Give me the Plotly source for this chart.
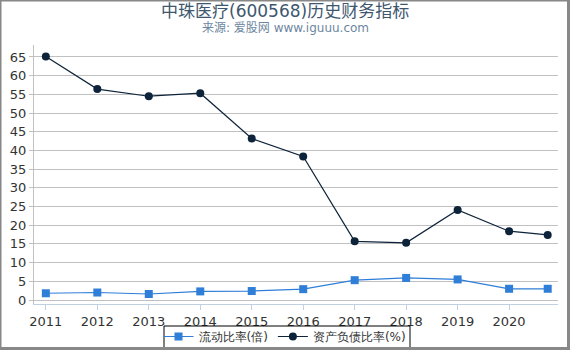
import plotly.graph_objects as go

years = [2011, 2012, 2013, 2014, 2015, 2016, 2017, 2018, 2019, 2020, 2020.75]
tick_years = [2011, 2012, 2013, 2014, 2015, 2016, 2017, 2018, 2019, 2020]
tick_labels = ["2011", "2012", "2013", "2014", "2015", "2016", "2017", "2018", "2019", "2020"]
current_ratio = [1.8, 2.0, 1.6, 2.3, 2.4, 2.9, 5.3, 5.9, 5.5, 3.0, 3.0]
debt_ratio = [65.1, 56.4, 54.5, 55.3, 43.2, 38.4, 15.7, 15.3, 24.1, 18.4, 17.4]

W, H = 570, 350
ml, mr, mt, mb = 34, 12, 45, 46
pw, ph = W - ml - mr, H - mt - mb

def px(x):
    return (x - ml) / pw

def py(y):
    return (H - mb - y) / ph

fig = go.Figure()
fig.add_trace(go.Scatter(
    x=years, y=current_ratio, name="流动比率(倍)", mode="lines+markers",
    line=dict(color="#2f7ed8", width=1.2),
    marker=dict(symbol="square", size=8, color="#2f7ed8"),
))
fig.add_trace(go.Scatter(
    x=years, y=debt_ratio, name="资产负债比率(%)", mode="lines+markers",
    line=dict(color="#0d233a", width=1.2),
    marker=dict(symbol="circle", size=8, color="#0d233a"),
))

fig.update_layout(
    width=W, height=H,
    margin=dict(l=ml, r=mr, t=mt, b=mb, autoexpand=False),
    paper_bgcolor="white", plot_bgcolor="white",
    font=dict(family="DejaVu Sans", size=13, color="#333333"),
    showlegend=True,
    legend=dict(
        orientation="h", x=px(285), xanchor="center", y=py(322), yanchor="top",
        borderwidth=0, bgcolor="rgba(0,0,0,0)",
        font=dict(size=12, color="#333333", family="DejaVu Sans"),
        itemwidth=30, tracegroupgap=0,
    ),
    xaxis=dict(
        range=[2010.77, 2020.95], tickmode="array", tickvals=tick_years, ticktext=tick_labels,
        showgrid=False, zeroline=False, showline=True, linecolor="#c0d0e0", linewidth=1,
        ticks="outside", ticklen=5, tickcolor="#c0d0e0",
        tickfont=dict(size=13, color="#333333"),
    ),
    yaxis=dict(
        range=[-1.07, 68.2], tickmode="array", tickvals=list(range(0, 70, 5)),
        showgrid=True, gridcolor="#c0c0c0", gridwidth=1, zeroline=False,
        showline=True, linecolor="#c0c0c0", linewidth=1,
        ticks="outside", ticklen=4, tickcolor="#c0c0c0",
        tickfont=dict(size=13, color="#333333"),
    ),
    annotations=[
        dict(text="中珠医疗(600568)历史财务指标", x=px(285), xref="paper", y=py(11), yref="paper",
             xanchor="center", yanchor="middle", showarrow=False,
             font=dict(size=17, color="#3e576f", family="DejaVu Sans, Noto Sans CJK SC")),
        dict(text="来源: 爱股网 www.iguuu.com", x=px(285), xref="paper", y=py(28), yref="paper",
             xanchor="center", yanchor="middle", showarrow=False,
             font=dict(size=12, color="#6d869f", family="DejaVu Sans, Noto Sans CJK SC")),
    ],
    shapes=[
        dict(type="rect", xref="paper", yref="paper", x0=px(164), x1=px(410), y0=py(326), y1=py(347.5),
             fillcolor="rgba(0,0,0,0)", line=dict(width=1, color="black"), layer="above"),
        dict(type="rect", xref="paper", yref="paper", x0=px(567), x1=px(570), y0=py(0), y1=py(350),
             fillcolor="#888888", line=dict(width=0), layer="above"),
        dict(type="rect", xref="paper", yref="paper", x0=px(0), x1=px(570), y0=py(347), y1=py(350),
             fillcolor="#888888", line=dict(width=0), layer="above"),
        dict(type="rect", xref="paper", yref="paper", x0=px(0), x1=px(1.5), y0=py(0), y1=py(350),
             fillcolor="#888888", line=dict(width=0), layer="above"),
        dict(type="rect", xref="paper", yref="paper", x0=px(0), x1=px(570), y0=py(0), y1=py(1.5),
             fillcolor="#888888", line=dict(width=0), layer="above"),
    ],
)

fig.write_html("out.html")
